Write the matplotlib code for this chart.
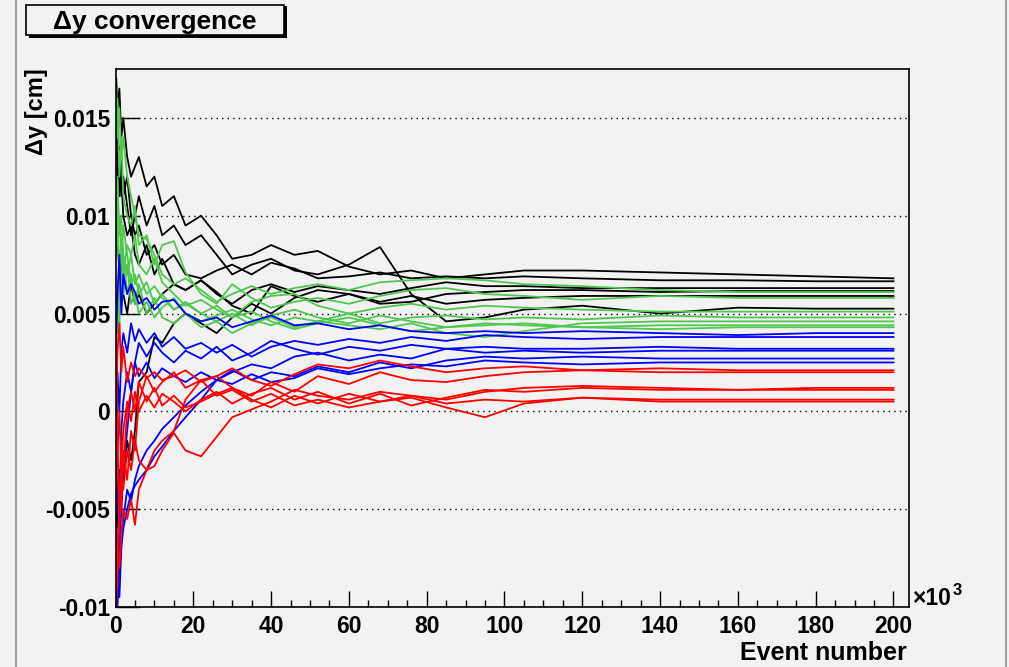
import numpy as np
import matplotlib.pyplot as plt
from matplotlib.patches import Rectangle
from matplotlib.lines import Line2D

# event number in units of 10^3, shared by all runs
event_k = [0.2, 0.5, 1, 1.5, 2, 3, 4, 5, 6, 8, 10, 12, 15, 18, 22, 26, 30, 35,
           40, 46, 52, 60, 68, 76, 85, 95, 105, 120, 140, 160, 180, 200]

# delta y values, in units of 10^-3 cm
black_runs = [
    [17.0, 15.5, 16.5, 14.0, 15.0, 13.0, 12.0, 12.5, 13.0, 11.5, 12.0, 10.5, 11.0, 9.5, 10.0, 9.0,
     7.8, 8.0, 8.5, 8.0, 8.2, 7.4, 7.0, 7.2, 6.8, 7.0, 7.2, 7.2, 7.1, 7.0, 6.9, 6.8],
    [15.0, 12.0, 13.5, 11.0, 12.0, 10.5, 9.0, 10.0, 11.0, 9.5, 10.5, 9.0, 9.5, 8.5, 9.0, 8.0,
     7.0, 7.5, 7.8, 7.2, 7.0, 7.5, 8.4, 6.0, 4.6, 4.8, 5.2, 5.4, 5.0, 5.3, 5.25, 5.25],
    [16.0, 14.0, 12.0, 13.0, 11.0, 12.0, 10.0, 9.0, 9.5, 8.0, 8.5, 7.5, 8.0, 7.0, 6.8, 7.2,
     7.5, 7.0, 7.6, 7.3, 6.8, 6.9, 7.1, 6.8, 6.9, 6.8, 6.9, 6.8, 6.7, 6.7, 6.65, 6.65],
    [14.0, 16.0, 11.0, 12.0, 10.0, 9.0, 9.5, 8.0, 7.5, 8.5, 7.0, 7.8, 6.5, 6.2, 6.7, 6.0,
     5.5, 6.2, 6.5, 6.1, 6.4, 6.2, 6.0, 6.3, 6.6, 6.4, 6.4, 6.3, 6.3, 6.3, 6.3, 6.3],
    [-8.0, -5.0, -3.0, -4.5, -3.5, -1.5, -2.5, -1.0, 1.5, 2.0, 3.8, 3.5, 4.5, 5.0, 4.5, 4.0,
     4.8, 5.5, 5.0, 5.8, 6.2, 6.0, 5.6, 5.9, 5.5, 5.7, 5.8, 5.9, 5.9, 5.9, 5.9, 5.9],
    [12.0, 9.0, 7.0, 8.0, 6.0, 5.0, 6.5, 5.5, 6.0, 5.0, 5.5, 6.0, 6.5, 6.2, 6.7, 6.1,
     5.4, 5.0, 6.4, 5.9, 5.6, 6.0, 5.5, 5.6, 6.0, 6.1, 6.2, 6.2, 6.1, 6.15, 6.15, 6.15],
]
green_runs = [
    [16.5, 14.0, 15.5, 13.0, 14.0, 12.0, 11.0, 10.0, 9.0, 8.8, 8.0, 7.0, 6.5, 6.8, 6.2, 5.6,
     6.0, 6.4, 6.0, 6.3, 6.5, 6.2, 6.6, 6.7, 6.8, 6.7, 6.5, 6.4, 6.2, 6.1, 6.1, 6.1],
    [14.0, 16.0, 12.0, 14.0, 11.0, 10.0, 9.5, 10.5, 8.5, 9.0, 7.5, 8.5, 8.7, 7.1, 6.0, 5.5,
     6.5, 5.8, 5.3, 5.6, 5.8, 5.5, 5.9, 6.2, 6.3, 6.0, 5.9, 5.7, 5.9, 5.8, 5.8, 5.8],
    [10.0, 12.0, 9.0, 10.0, 8.0, 7.0, 8.0, 6.5, 7.0, 6.0, 6.4, 5.8, 5.2, 5.5, 5.0, 5.4,
     4.8, 5.6, 5.9, 6.0, 5.4, 5.0, 5.3, 5.5, 5.2, 5.4, 5.3, 5.2, 5.1, 5.1, 5.1, 5.1],
    [8.0, 10.0, 7.0, 9.0, 6.0, 7.5, 5.5, 6.0, 5.0, 5.6, 4.8, 5.3, 5.8, 5.0, 4.6, 4.9,
     5.2, 4.7, 4.4, 4.8, 4.6, 5.0, 4.5, 4.8, 4.9, 4.7, 4.8, 4.7, 4.9, 4.8, 4.8, 4.8],
    [6.0, 4.0, 7.0, 5.0, 8.0, 6.0, 7.0, 5.5, 6.5, 5.0, 5.8, 4.8, 4.5, 5.0, 4.3, 4.6,
     4.0, 4.5, 4.8, 4.3, 4.6, 4.4, 4.2, 4.5, 4.0, 3.8, 4.1, 4.5, 4.6, 4.6, 4.6, 4.6],
    [12.0, 9.0, 10.0, 8.0, 9.5, 8.0, 6.5, 7.0, 6.0, 6.6, 5.5, 6.0, 5.2, 5.6, 5.0, 4.6,
     5.0, 4.4, 4.9, 5.2, 4.8, 4.5, 4.9, 4.6, 4.3, 4.4, 4.5, 4.3, 4.4, 4.4, 4.4, 4.4],
    [3.0, 6.0, 4.0, 9.0, 7.0, 8.5, 8.0, 9.0, 7.5, 7.0, 7.8, 6.6, 6.0, 5.4, 5.7, 5.2,
     4.8, 5.1, 4.6, 4.2, 4.5, 4.8, 4.4, 4.1, 4.3, 4.5, 4.4, 4.3, 4.2, 4.3, 4.3, 4.3],
]
blue_runs = [
    [4.0, 6.0, 8.0, 5.0, 7.0, 6.0, 6.5, 6.1, 5.5, 5.8, 5.2, 5.6, 5.7, 5.0, 4.6, 4.8,
     4.3, 4.6, 4.9, 4.4, 4.5, 4.2, 4.4, 4.1, 4.0, 4.1, 4.0, 4.1, 4.0, 3.9, 4.0, 4.0],
    [-2.0, 2.0, 0.0, 3.0, 4.0, 3.0, 4.5, 3.6, 4.2, 3.5, 4.0, 3.3, 3.8, 3.2, 3.5, 3.0,
     3.4, 2.8, 3.3, 3.6, 3.4, 3.7, 3.5, 3.8, 3.6, 3.9, 3.8, 3.7, 3.8, 3.8, 3.8, 3.8],
    [-10.0, -9.0, -7.0, -5.0, -3.0, -1.0, 1.0, 2.5, 3.5, 2.8, 3.5, 3.0, 2.5, 3.1, 2.7, 3.3,
     2.6, 3.0, 3.6, 3.2, 2.9, 3.3, 3.1, 3.4, 3.2, 3.3, 3.2, 3.2, 3.3, 3.2, 3.2, 3.2],
    [-10.0, -8.5, -9.5, -7.0, -6.0, -5.0, -4.2, -3.8, -3.5, -3.0, -2.3, -1.8, -1.0, -0.3, 0.6, 1.6,
     2.0, 2.4, 2.2, 2.8, 3.0, 2.6, 2.9, 2.7, 3.2, 3.0, 3.1, 3.0, 3.1, 3.1, 3.1, 3.1],
    [-9.0, -10.0, -8.0, -6.5, -5.5, -4.0, -4.6, -3.5, -2.8, -2.0, -1.5, -0.9, -0.3, 0.3, 1.0, 1.6,
     2.1, 1.6, 2.0, 1.8, 2.3, 2.0, 2.5, 2.2, 2.6, 2.8, 2.7, 2.8, 2.7, 2.7, 2.7, 2.7],
    [-6.0, -3.0, -5.0, -1.0, 0.5, 2.0, 1.0, 2.5, 1.8, 2.5, 1.7, 2.2, 1.8, 1.5, 2.0, 1.6,
     1.4, 1.9, 1.5, 1.7, 2.2, 1.9, 2.2, 2.4, 2.3, 2.6, 2.5, 2.4, 2.5, 2.5, 2.5, 2.5],
]
red_runs = [
    [0.0, 3.0, 4.5, 2.0, 3.3, 1.5, 2.5, 1.8, 2.2, 1.7, 2.0, 1.6, 1.8, 2.1, 1.5, 1.8,
     2.2, 1.6, 1.3, 1.9, 2.4, 2.2, 2.6, 2.3, 2.0, 2.2, 2.3, 2.1, 2.2, 2.1, 2.1, 2.1],
    [-9.0, -6.0, -8.0, -6.5, -5.0, -5.5, -4.5, -5.8, -4.0, -3.0, -2.0, -1.5, -1.0, 0.6, 1.6, 1.8,
     1.2, 0.8, 1.5, 1.0, 1.8, 1.4, 2.0, 1.6, 1.5, 1.8, 2.0, 2.1, 2.0, 2.0, 2.0, 2.0],
    [-10.0, -7.0, -5.0, -3.0, -4.0, -2.0, -3.0, -1.5, -2.5, -3.0, -2.8, -2.0, -1.1, -2.0, -2.3, -1.3,
     -0.3, 0.1, 0.5, 1.1, 0.8, 0.6, 1.0, 0.8, 0.6, 1.0, 1.2, 1.3, 1.2, 1.1, 1.2, 1.2],
    [2.0, -2.0, 0.0, -3.0, -1.0, 0.5, -0.5, 1.0, 0.0, 0.8, 0.2, 0.9, 0.5, 0.0, 0.6, 1.0,
     0.4, 0.9, 1.2, 0.6, 1.0, 0.4, 0.9, 0.3, 0.7, 1.1, 1.0, 1.2, 1.1, 1.1, 1.1, 1.1],
    [-4.0, -1.0, -6.0, -2.0, -3.0, 0.0, 1.0, 0.0, 1.5, 0.5, 1.2, 0.3, 0.8, 0.2, 0.5, 0.9,
     1.2, 0.6, 0.2, 0.8, 0.4, 0.9, 0.5, 0.7, 0.2, -0.3, 0.4, 0.7, 0.6, 0.6, 0.6, 0.6],
    [-7.0, -9.0, -4.0, -5.0, -2.0, -3.5, -1.0, -2.0, 0.5, 1.8, 1.0, 1.5, 2.0, 1.2, 1.6, 0.8,
     1.1, 0.5, 0.9, 0.3, 0.6, 0.2, 0.5, 0.8, 0.4, 0.6, 0.5, 0.7, 0.5, 0.5, 0.5, 0.5],
]

x_ticks = [0, 20, 40, 60, 80, 100, 120, 140, 160, 180, 200]
x_tick_labels = ['0', '20', '40', '60', '80', '100', '120', '140', '160', '180', '200']
y_ticks = [-0.01, -0.005, 0, 0.005, 0.01, 0.015]
y_tick_labels = ['-0.01', '-0.005', '0', '0.005', '0.01', '0.015']

bg = '#f2f2f2'
W, H = 1009, 667
fam = ['Liberation Sans', 'DejaVu Sans']
tick_font = dict(family=fam, weight='bold', size=16.5)

fig = plt.figure(figsize=(W / 100, H / 100), dpi=100, facecolor=bg)
ax = fig.add_axes([115.5 / W, 1 - 607 / H, (909 - 115.5) / W, (607 - 69) / H])
ax.set_facecolor(bg)

for runs, col in [(black_runs, 'black'), (green_runs, '#50c850'),
                  (blue_runs, '#0000ff'), (red_runs, '#ff0000')]:
    for r in runs:
        assert len(r) == len(event_k)
        ax.plot(event_k, np.array(r) * 1e-3, color=col, lw=1.3)

ax.set_xlim(0, 204)
ax.set_ylim(-0.01, 0.0175)
ax.set_xticks(x_ticks)
ax.set_xticklabels(x_tick_labels, **tick_font)
ax.set_xticks(np.arange(0, 201, 5), minor=True)
ax.set_yticks(y_ticks)
ax.set_yticklabels(y_tick_labels, **tick_font)
ax.tick_params(axis='x', which='major', direction='in', length=11.5, width=1, pad=6)
ax.tick_params(axis='x', which='minor', direction='in', length=5, width=1)
ax.tick_params(axis='y', which='major', direction='in', length=17, width=1, pad=4)
ax.grid(axis='y', color='black', linestyle=(0, (1, 3)), lw=1)
ax.set_axisbelow(True)
for s in ax.spines.values():
    s.set_linewidth(1.2)

# axis titles
fig.text(907 / W, 1 - 660 / H, 'Event number', ha='right', va='baseline',
         family=fam, weight='bold', size=18)
fig.text(36.5 / W, 1 - 68 / H, 'Δy [cm]', rotation=90, ha='center', va='top',
         family=fam, weight='bold', size=17)
fig.text(912 / W, 1 - 605 / H, '×10', ha='left', va='baseline', **tick_font)
fig.text(953 / W, 1 - 595 / H, '3', ha='left', va='baseline', family=fam, weight='bold', size=12)

# title box with shadow
fig.add_artist(Rectangle((29 / W, 1 - 38 / H), 258 / W, 32 / H, transform=fig.transFigure,
                         facecolor='black', edgecolor='none'))
fig.add_artist(Rectangle((26 / W, 1 - 35 / H), 258 / W, 30 / H, transform=fig.transFigure,
                         facecolor=bg, edgecolor='black', lw=1.2))
fig.text(154.5 / W, 1 - 29.3 / H, 'Δy convergence', ha='center', va='baseline',
         family=fam, weight='bold', size=19)

# window borders
for xp in (16, 1006):
    fig.add_artist(Line2D([xp / W, xp / W], [0, 1], transform=fig.transFigure,
                          color='#a0a0a0', lw=1.5))

fig.savefig('out.png', dpi=100, facecolor=bg)
